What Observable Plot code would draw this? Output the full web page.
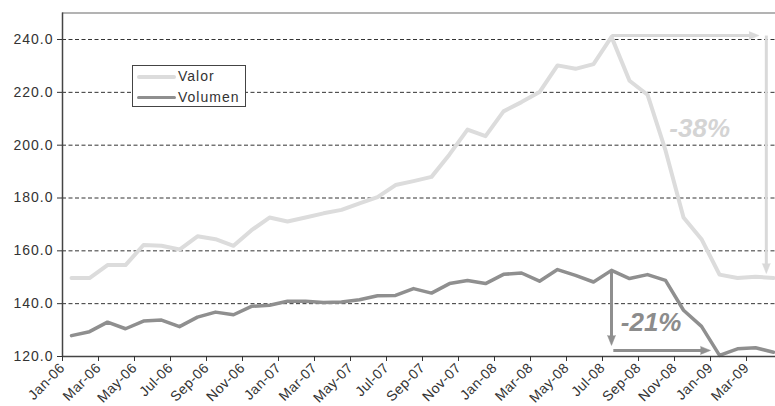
<!DOCTYPE html>
<html>
<head>
<meta charset="utf-8">
<script src="https://cdn.jsdelivr.net/npm/d3@7"></script>
<script src="https://cdn.jsdelivr.net/npm/@observablehq/plot@0.6"></script>
<style>
  html, body { margin: 0; padding: 0; background: #fff; }
  #wrap { position: relative; width: 775px; height: 406px; overflow: hidden; }
  #legend { position: absolute; left: 132px; top: 65px; width: 112px; height: 40px;
    border: 1px solid #444; background: #fff; font-family: "Liberation Sans", Arial, sans-serif;
    font-size: 14px; color: #333; letter-spacing: 1px; }
  .entry { position: absolute; left: 0; height: 20px; width: 112px; }
  .swatch { position: absolute; left: 4px; width: 39px; top: 9px; border-radius: 2px; }
  .lab { position: absolute; left: 45px; top: 2px; }
</style>
</head>
<body>
<div id="wrap"><div id="chart"></div><div id="legend"></div></div>
<script>
const months = ["Jan-06","Feb-06","Mar-06","Apr-06","May-06","Jun-06","Jul-06","Aug-06","Sep-06","Oct-06","Nov-06","Dec-06",
  "Jan-07","Feb-07","Mar-07","Apr-07","May-07","Jun-07","Jul-07","Aug-07","Sep-07","Oct-07","Nov-07","Dec-07",
  "Jan-08","Feb-08","Mar-08","Apr-08","May-08","Jun-08","Jul-08","Aug-08","Sep-08","Oct-08","Nov-08","Dec-08",
  "Jan-09","Feb-09","Mar-09","Apr-09"];
const valor = [149.7,149.7,154.6,154.6,162.2,161.9,160.5,165.5,164.4,161.9,167.8,172.6,
  171.1,172.6,174.2,175.5,178.0,180.3,184.9,186.4,188.0,196.5,205.9,203.4,
  212.8,216.3,220.1,230.2,228.9,230.7,241.0,224.4,219.1,198.0,172.6,164.4,
  151.0,149.7,150.2,149.7];
const volumen = [127.9,129.4,133.0,130.5,133.4,133.8,131.3,134.9,136.8,135.8,139.0,139.4,
  140.9,140.9,140.4,140.6,141.5,143.0,143.1,145.7,144.0,147.6,148.8,147.6,
  151.1,151.6,148.5,152.9,150.7,148.2,152.6,149.5,151.0,148.8,137.5,131.4,
  120.4,122.9,123.3,121.6];
const seriesNames = ["Valor", "Volumen"];
const seriesColors = ["#dcdcdc", "#8f8f8f"];
const yTicks = [120, 140, 160, 180, 200, 220, 240];
const xTickLabels = ["Jan-06","Mar-06","May-06","Jul-06","Sep-06","Nov-06","Jan-07","Mar-07","May-07","Jul-07",
  "Sep-07","Nov-07","Jan-08","Mar-08","May-08","Jul-08","Sep-08","Nov-08","Jan-09","Mar-09"];

// annotations (month index, value); dir = direction the arrowhead points (degrees, 0 = up)
const valorArrows = [
  {x1: 30, y1: 241.5, x2: 38.2, y2: 241.5, dir: 90},
  {x1: 38.6, y1: 241.5, x2: 38.6, y2: 151.4, dir: 180}
];
const volumenArrows = [
  {x1: 30, y1: 152.6, x2: 30, y2: 124.2, dir: 180},
  {x1: 30.1, y1: 122.3, x2: 35.5, y2: 122.3, dir: 90}
];
const dropLabels = [
  {x: 34.9, y: 206.3, text: "-38%", color: "#d4d4d4"},
  {x: 32.2, y: 132.9, text: "-21%", color: "#8c8c8c"}
];

const rows = months.map((m, i) => ({i, m, valor: valor[i], volumen: volumen[i]}));
const xTickPos = xTickLabels.map((_, k) => 2 * k - 0.5);

function arrowMarks(data, color) {
  return [
    Plot.arrow(data, {x1: "x1", y1: "y1", x2: "x2", y2: "y2", stroke: color, strokeWidth: 3,
      headLength: 0, insetEnd: 8, strokeLinecap: "butt"}),
    Plot.vector(data, {x: "x2", y: "y2", rotate: "dir", length: 10, r: 4, shape: "spike", anchor: "end",
      fill: color, stroke: color, strokeWidth: 0.5})
  ];
}

const chart = Plot.plot({
  width: 775, height: 406,
  marginLeft: 62, marginRight: 0, marginTop: 12.6, marginBottom: 50,
  x: {domain: [-0.5, 39.11], axis: null},
  y: {domain: [120, 250], axis: null},
  style: {fontFamily: "'Liberation Sans', Arial, sans-serif", background: "white", color: "#333", overflow: "visible"},
  marks: [
    Plot.ruleY(yTicks.slice(1), {stroke: "#333", strokeDasharray: "4,2.5", strokeWidth: 1}),
    Plot.ruleY([250], {stroke: "#9a9a9a", strokeWidth: 1.5}),
    Plot.line(rows, {x: "i", y: "valor", stroke: seriesColors[0], strokeWidth: 4, strokeLinejoin: "round"}),
    Plot.line(rows, {x: "i", y: "volumen", stroke: seriesColors[1], strokeWidth: 3.5, strokeLinejoin: "round"}),
    ...arrowMarks(valorArrows, "#d9d9d9"),
    ...arrowMarks(volumenArrows, "#8f8f8f"),
    Plot.text(dropLabels, {x: "x", y: "y", text: "text", fill: "color", fontSize: 26, fontWeight: "bold", fontStyle: "italic"}),
    Plot.ruleX([-0.5], {stroke: "#444", strokeWidth: 1.5}),
    Plot.ruleY([120], {stroke: "#444", strokeWidth: 1.5}),
    Plot.axisY({ticks: yTicks, tickFormat: d => d.toFixed(1), tickSize: 5, tickPadding: 4, fontSize: 14, label: null}),
    Plot.axisX({ticks: xTickPos, tickFormat: d => xTickLabels[Math.round((d + 0.5) / 2)], tickRotate: -45,
      tickSize: 5, tickPadding: 4, fontSize: 14, label: null})
  ]
});
document.getElementById("chart").appendChild(chart);
d3.select(chart).selectAll("[aria-label='y-axis tick label'] text").style("letter-spacing", "1px");
d3.select(chart).selectAll("[aria-label='x-axis tick label'] text").style("letter-spacing", "0.4px");

const legend = d3.select("#legend");
seriesNames.forEach((name, k) => {
  const e = legend.append("div").attr("class", "entry").style("top", (k * 21) + "px");
  e.append("div").attr("class", "swatch")
    .style("border-top", `${k === 0 ? 4 : 3.5}px solid ${seriesColors[k]}`);
  e.append("span").attr("class", "lab").text(name);
});
</script>
</body>
</html>
